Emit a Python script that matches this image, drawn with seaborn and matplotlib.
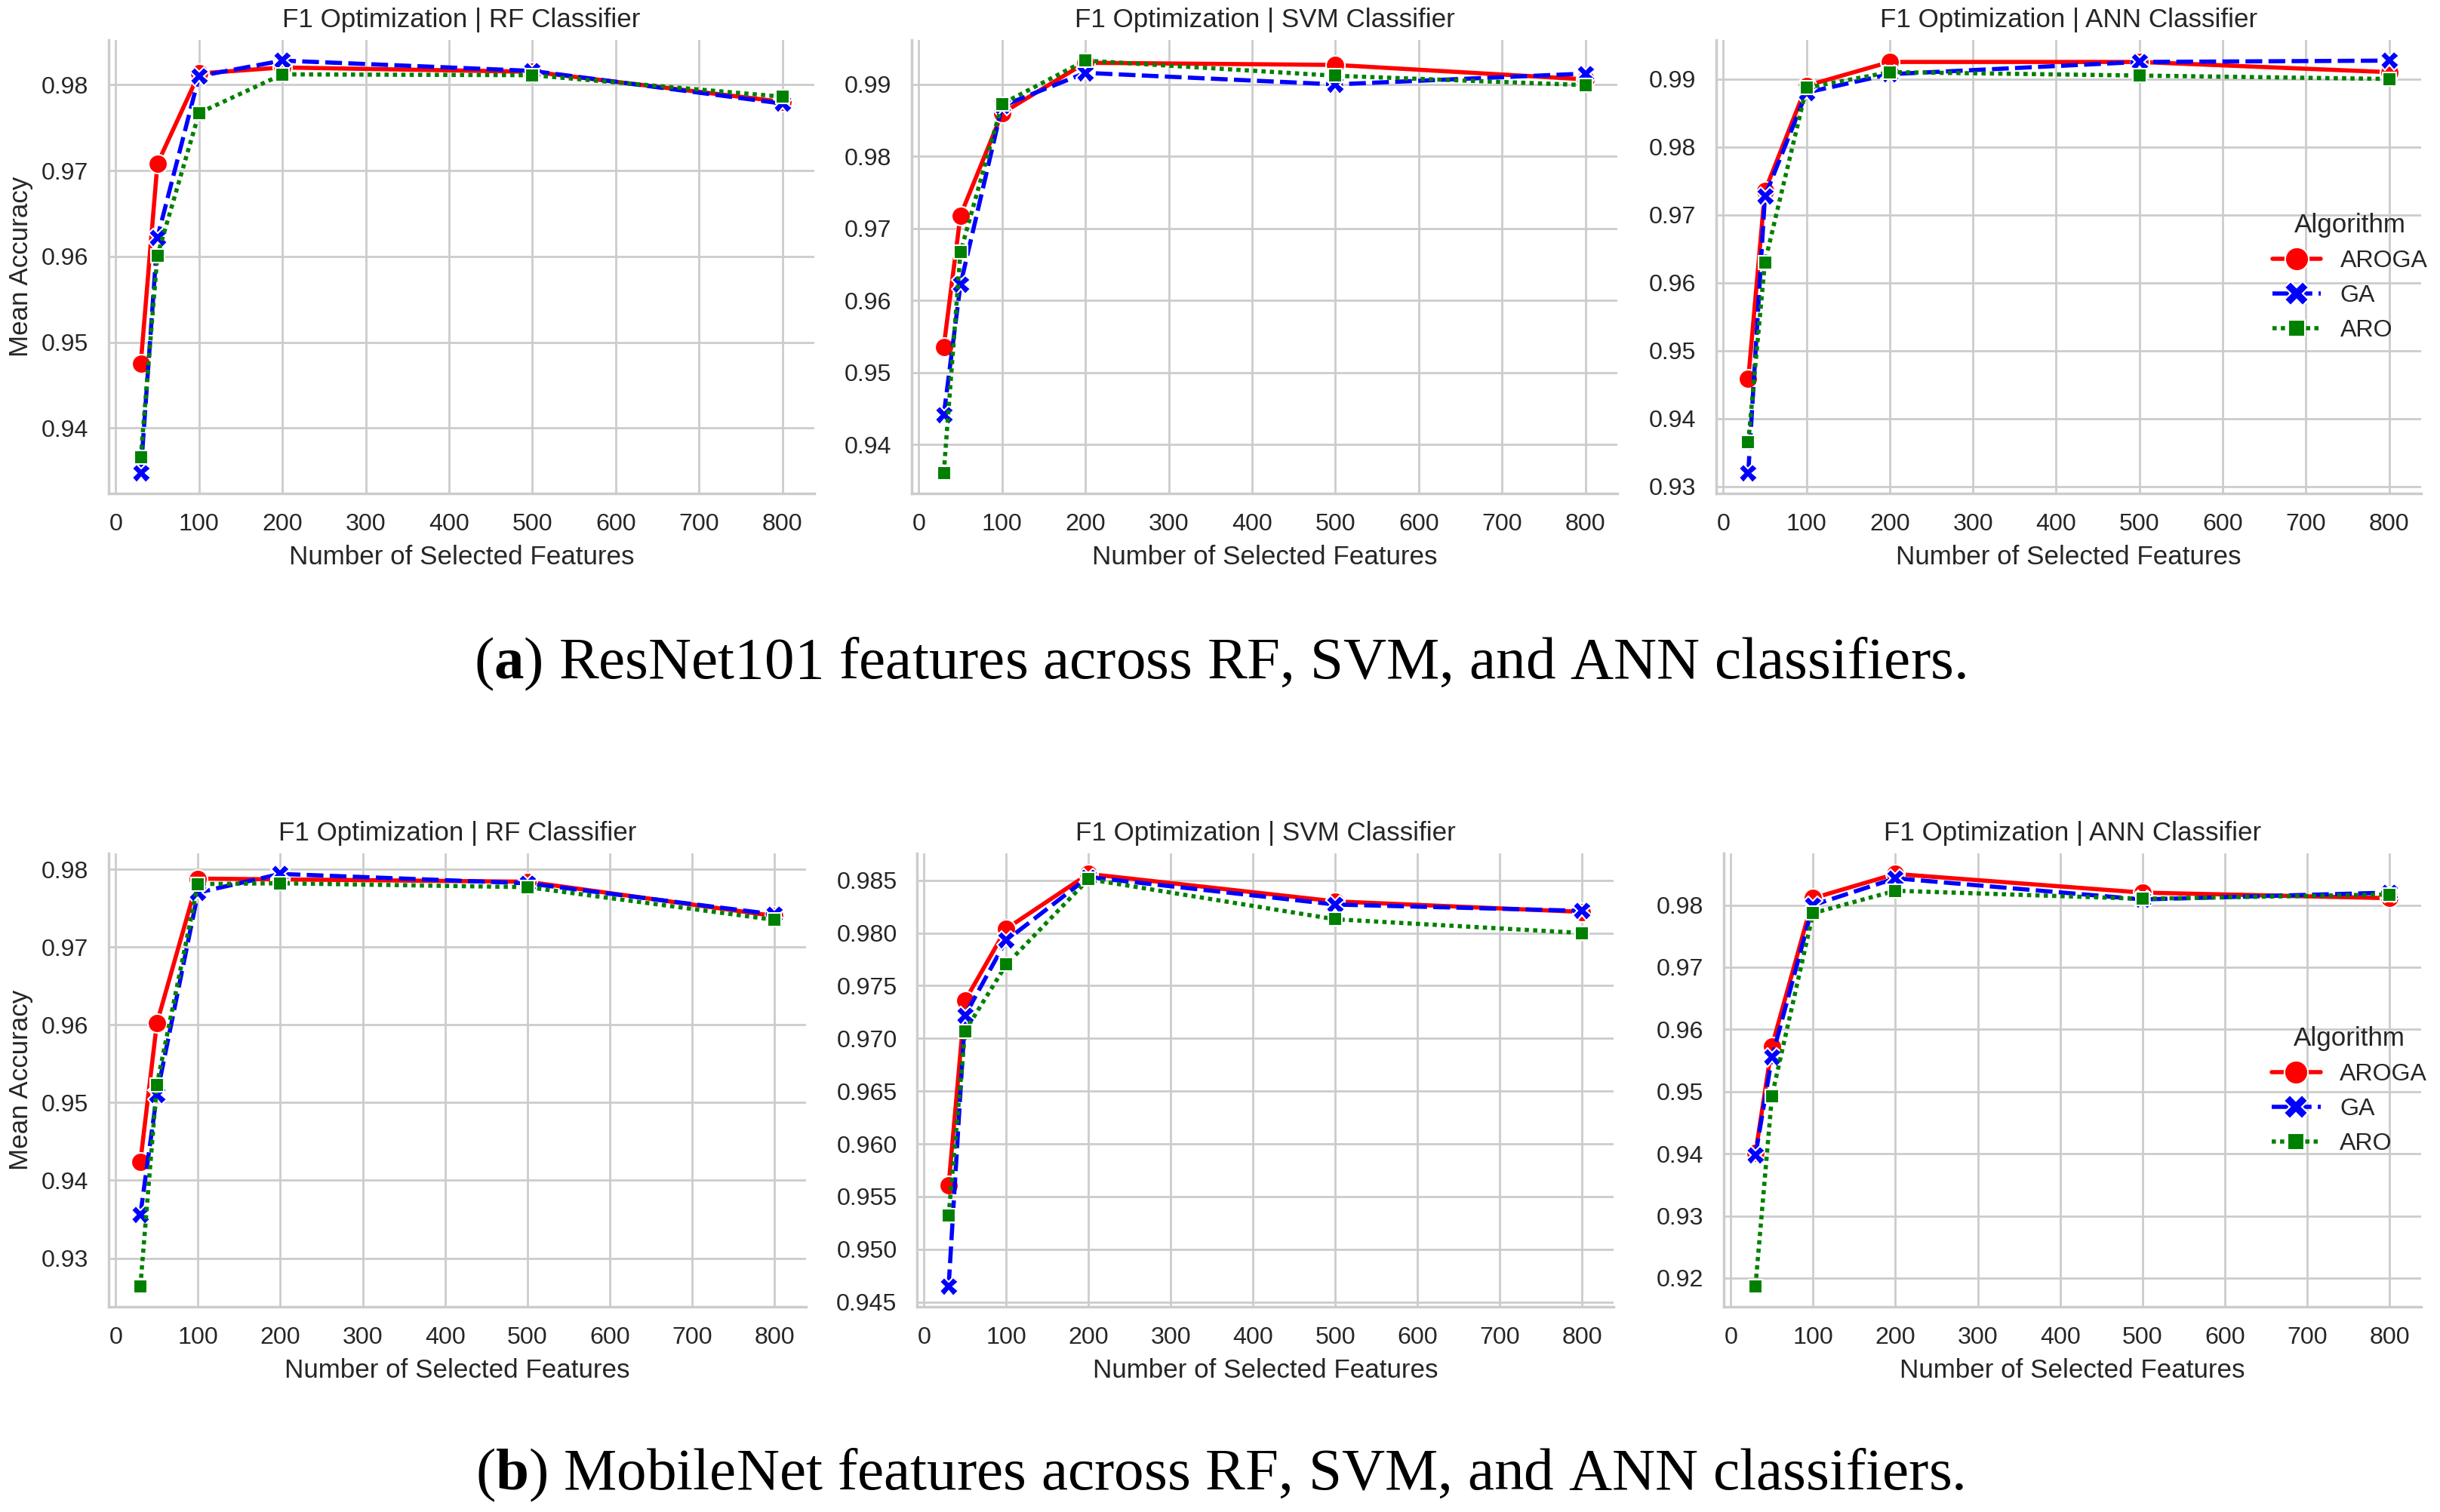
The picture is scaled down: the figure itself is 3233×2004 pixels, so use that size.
import numpy as np
import pandas as pd
import matplotlib
matplotlib.use("Agg")
import matplotlib.pyplot as plt
import seaborn as sns

# number of selected features (x axis)
features = [30, 50, 100, 200, 500, 800]
algorithms = ["AROGA", "GA", "ARO"]

# ResNet101 features
resnet_rf_aroga = [0.9475, 0.9708, 0.9813, 0.9820, 0.9815, 0.9780]
resnet_rf_ga = [0.9348, 0.9622, 0.9810, 0.9828, 0.9816, 0.9778]
resnet_rf_aro = [0.9366, 0.9601, 0.9767, 0.9812, 0.9811, 0.9786]

resnet_svm_aroga = [0.9536, 0.9718, 0.9860, 0.9930, 0.9927, 0.9907]
resnet_svm_ga = [0.9441, 0.9622, 0.9870, 0.9916, 0.9900, 0.9915]
resnet_svm_aro = [0.9361, 0.9667, 0.9873, 0.9933, 0.9912, 0.9899]

resnet_ann_aroga = [0.9458, 0.9735, 0.9890, 0.9925, 0.9925, 0.9910]
resnet_ann_ga = [0.9320, 0.9727, 0.9880, 0.9907, 0.9925, 0.9927]
resnet_ann_aro = [0.9365, 0.9630, 0.9887, 0.9910, 0.9905, 0.9900]

# MobileNet features
mobile_rf_aroga = [0.9424, 0.9602, 0.9788, 0.9787, 0.9784, 0.9740]
mobile_rf_ga = [0.9356, 0.9510, 0.9770, 0.9794, 0.9782, 0.9742]
mobile_rf_aro = [0.9264, 0.9523, 0.9781, 0.9782, 0.9777, 0.9735]

mobile_svm_aroga = [0.9561, 0.9736, 0.9804, 0.9856, 0.9830, 0.9820]
mobile_svm_ga = [0.9465, 0.9722, 0.9793, 0.9853, 0.9827, 0.9821]
mobile_svm_aro = [0.9532, 0.9707, 0.9770, 0.9851, 0.9813, 0.9800]

mobile_ann_aroga = [0.9401, 0.9573, 0.9811, 0.9850, 0.9820, 0.9811]
mobile_ann_ga = [0.9398, 0.9555, 0.9800, 0.9843, 0.9809, 0.9820]
mobile_ann_aro = [0.9187, 0.9493, 0.9787, 0.9823, 0.9810, 0.9817]

classifiers = ["RF", "SVM", "ANN"]
captions = [r"($\mathbf{a}$) ResNet101 features across RF, SVM, and ANN classifiers.",
            r"($\mathbf{b}$) MobileNet features across RF, SVM, and ANN classifiers."]

rows = [
    [(resnet_rf_aroga, resnet_rf_ga, resnet_rf_aro),
     (resnet_svm_aroga, resnet_svm_ga, resnet_svm_aro),
     (resnet_ann_aroga, resnet_ann_ga, resnet_ann_aro)],
    [(mobile_rf_aroga, mobile_rf_ga, mobile_rf_aro),
     (mobile_svm_aroga, mobile_svm_ga, mobile_svm_aro),
     (mobile_ann_aroga, mobile_ann_ga, mobile_ann_aro)],
]

palette = {"AROGA": "red", "GA": "blue", "ARO": "green"}

sns.set_theme(style="whitegrid", context="notebook", font_scale=1.05)
plt.rcParams["font.family"] = ["Liberation Sans", "DejaVu Sans"]
plt.rcParams["mathtext.fontset"] = "custom"
plt.rcParams["mathtext.rm"] = "Liberation Serif"
plt.rcParams["mathtext.bf"] = "Liberation Serif:bold"

W, H = 3233, 2004
fig = plt.figure(figsize=(W / 200, H / 200), dpi=200)

# axes boxes in pixels: (left, top, width, height)
boxes = [
    [(144, 53, 935, 601), (1208, 53, 935, 601), (2274, 53, 934, 601)],
    [(144, 1131, 924, 601), (1215, 1131, 923, 601), (2284, 1131, 924, 601)],
]

for r in range(2):
    for c in range(3):
        l, t, w, h = boxes[r][c]
        ax = fig.add_axes([l / W, (H - t - h) / H, w / W, h / H])
        vals = rows[r][c]
        df = pd.DataFrame({
            "Features": features * 3,
            "Accuracy": list(vals[0]) + list(vals[1]) + list(vals[2]),
            "Algorithm": [a for a in algorithms for _ in features],
        })
        sns.lineplot(data=df, x="Features", y="Accuracy", hue="Algorithm",
                     style="Algorithm", hue_order=algorithms, style_order=algorithms,
                     markers=True, palette=palette, linewidth=2, markersize=9,
                     ax=ax)
        ax.set_title(f"F1 Optimization | {classifiers[c]} Classifier")
        ax.set_xlabel("Number of Selected Features")
        ax.set_ylabel("Mean Accuracy" if c == 0 else "")
        ax.set_xticks(range(0, 801, 100))
        sns.despine(ax=ax)
        if c == 2:
            ax.legend(title="Algorithm", loc="center right", markerscale=1.25,
                      bbox_to_anchor=(1.04, 0.476), frameon=False)
        else:
            ax.get_legend().remove()

fig.text(0.5, 1 - 880 / H, captions[0], ha="center", va="center",
         fontsize=28.5, family="Liberation Serif", color="black")
fig.text(0.5, 1 - 1955 / H, captions[1], ha="center", va="center",
         fontsize=28.5, family="Liberation Serif", color="black")

fig.savefig("out.png", dpi=200)
